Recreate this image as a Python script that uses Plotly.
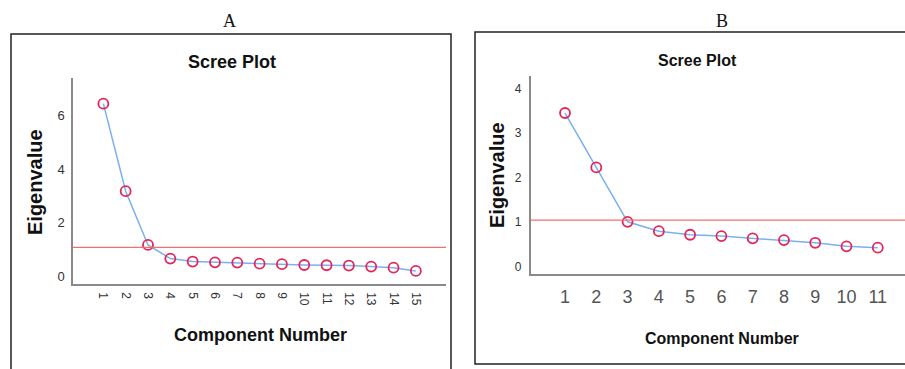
import plotly.graph_objects as go

# ---- data ----
comp_a = list(range(1, 16))
eig_a = [6.44, 3.17, 1.16, 0.65, 0.54, 0.51, 0.50, 0.46, 0.44, 0.41, 0.40, 0.39, 0.35, 0.31, 0.19]
comp_b = list(range(1, 12))
eig_b = [3.45, 2.23, 1.01, 0.80, 0.72, 0.69, 0.64, 0.60, 0.54, 0.46, 0.43]
ref_a = 1.07
ref_b = 1.05
yticks_a = [0, 2, 4, 6]
yticks_b = [0, 1, 2, 3, 4]
panel_labels = ["A", "B"]

W, H = 905, 369
def px(x):
    return x / W
def py(y):
    return 1 - y / H

LINE = "#7cb0ec"
MARK = "#e3265a"
REF = "#f07070"
AX = "#8a8a8a"
FONT = "Liberation Sans"

fig = go.Figure()
fig.add_trace(go.Scatter(x=comp_a, y=eig_a, mode="lines+markers", xaxis="x", yaxis="y",
                         line=dict(color=LINE, width=1.5),
                         marker=dict(symbol="circle-open", size=10, color=MARK, line=dict(width=1.8, color=MARK)),
                         showlegend=False, hoverinfo="skip"))
fig.add_trace(go.Scatter(x=comp_b, y=eig_b, mode="lines+markers", xaxis="x2", yaxis="y2",
                         line=dict(color=LINE, width=1.5),
                         marker=dict(symbol="circle-open", size=10, color=MARK, line=dict(width=1.8, color=MARK)),
                         showlegend=False, hoverinfo="skip"))

common = dict(showgrid=False, zeroline=False, showline=True, linecolor=AX, linewidth=1.5,
              ticks="", mirror=False)

fig.update_layout(
    width=W, height=H, margin=dict(l=0, r=0, t=0, b=0),
    paper_bgcolor="white", plot_bgcolor="white",
    font=dict(family=FONT, color="#333"),
    xaxis=dict(domain=[px(73), px(446)], range=[-0.36, 16.35], tickvals=comp_a,
               ticktext=[str(c) for c in comp_a], tickangle=90,
               tickfont=dict(size=12, color="#333"), ticklabelstandoff=4, anchor="y", **common),
    yaxis=dict(domain=[py(284), py(78)], range=[-0.3, 7.4], tickvals=yticks_a,
               tickfont=dict(size=13, color="#333"), ticklabelstandoff=4, anchor="x", **common),
    xaxis2=dict(domain=[px(530.7), 1.0], range=[-0.097, 11.87], tickvals=comp_b,
                tickfont=dict(size=18, color="#555"), ticklabelstandoff=6, anchor="y2", **common),
    yaxis2=dict(domain=[py(274), py(76)], range=[-0.16, 4.28], tickvals=yticks_b,
                tickfont=dict(size=12, color="#333"), ticklabelstandoff=5, anchor="x2", **common),
)

# reference lines (eigenvalue threshold)
fig.add_shape(type="line", xref="x domain", yref="y", x0=0, x1=1, y0=ref_a, y1=ref_a,
              line=dict(color=REF, width=1.3))
fig.add_shape(type="line", xref="x2 domain", yref="y2", x0=0, x1=1, y0=ref_b, y1=ref_b,
              line=dict(color=REF, width=1.3))

# frames
fig.add_shape(type="rect", xref="paper", yref="paper", x0=px(11), x1=px(451), y0=py(380), y1=py(34),
              line=dict(color="#222", width=1.5))
fig.add_shape(type="rect", xref="paper", yref="paper", x0=px(475), x1=px(915), y0=py(364), y1=py(32),
              line=dict(color="#222", width=1.5))

anns = []
# panel letters
anns.append(dict(x=px(229), y=py(21), text=panel_labels[0], font=dict(family="Liberation Serif", size=18, color="#111")))
anns.append(dict(x=px(722), y=py(21), text=panel_labels[1], font=dict(family="Liberation Serif", size=18, color="#111")))
# titles
anns.append(dict(x=px(232), y=py(62), text="<b>Scree Plot</b>", font=dict(size=18, color="#111")))
anns.append(dict(x=px(697), y=py(60), text="<b>Scree Plot</b>", font=dict(size=16, color="#111")))
# axis titles
anns.append(dict(x=px(260), y=py(335), text="<b>Component Number</b>", font=dict(size=18, color="#111")))
anns.append(dict(x=px(722), y=py(338), text="<b>Component Number</b>", font=dict(size=16, color="#111")))
anns.append(dict(x=px(35), y=py(182), text="<b>Eigenvalue</b>", textangle=-90, font=dict(size=20, color="#111")))
anns.append(dict(x=px(497), y=py(175), text="<b>Eigenvalue</b>", textangle=-90, font=dict(size=20, color="#111")))
for a in anns:
    a.update(xref="paper", yref="paper", showarrow=False, xanchor="center", yanchor="middle")
fig.update_layout(annotations=anns)

fig.write_html("out.html", config={"displayModeBar": False},
               post_script="document.body.style.margin='0';document.body.style.overflow='hidden';")
